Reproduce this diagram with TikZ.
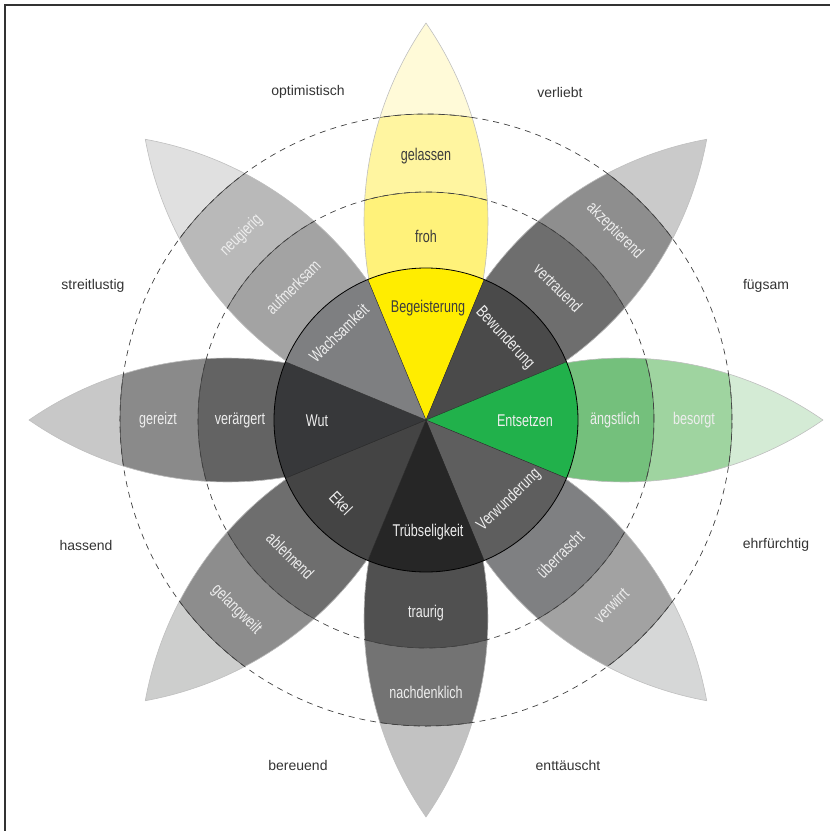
\documentclass[tikz,border=0pt]{standalone}
\usepackage{fontspec}
\setmainfont{Liberation Sans}
\newfontfamily\condfont{Liberation Sans}[FakeStretch=0.74]
\definecolor{yA}{HTML}{FFED00}
\definecolor{yB}{HTML}{FFF27A}
\definecolor{yC}{HTML}{FFF5A0}
\definecolor{yD}{HTML}{FFFAD8}
\definecolor{gA}{HTML}{21B14B}
\definecolor{gB}{HTML}{74C07C}
\definecolor{gC}{HTML}{9FD4A0}
\definecolor{gD}{HTML}{D4EBD5}
\definecolor{trA}{HTML}{4A4A4A}
\definecolor{trB}{HTML}{6E6E6E}
\definecolor{trC}{HTML}{8E8E8E}
\definecolor{trD}{HTML}{CACACA}
\definecolor{tlA}{HTML}{7E7F81}
\definecolor{tlB}{HTML}{A3A3A3}
\definecolor{tlC}{HTML}{B9B9B9}
\definecolor{tlD}{HTML}{E0E0E0}
\definecolor{lA}{HTML}{37383A}
\definecolor{lB}{HTML}{636363}
\definecolor{lC}{HTML}{8A8A8A}
\definecolor{lD}{HTML}{C8C8C8}
\definecolor{blA}{HTML}{444444}
\definecolor{blB}{HTML}{6E6E6E}
\definecolor{blC}{HTML}{8D8D8D}
\definecolor{blD}{HTML}{CDCECD}
\definecolor{bA}{HTML}{262626}
\definecolor{bB}{HTML}{505050}
\definecolor{bC}{HTML}{737373}
\definecolor{bD}{HTML}{C2C2C2}
\definecolor{brA}{HTML}{5E5E5E}
\definecolor{brB}{HTML}{7F8082}
\definecolor{brC}{HTML}{A2A2A2}
\definecolor{brD}{HTML}{D6D7D7}
\definecolor{darktext}{HTML}{3C3C3C}
\definecolor{lighttext}{HTML}{EEEEEE}
\definecolor{outertext}{HTML}{333333}
\def\lR{348.76}
\def\la{34.69}
\newcommand\drawpetal[4]{%
\begin{scope}[rotate=#1-90]
  \begin{scope}
    \clip (0,0) arc[start angle=-\la, end angle=\la, radius=\lR] arc[start angle=180-\la, end angle=180+\la, radius=\lR] -- cycle;
    \fill[#4] (0,0) circle (410);
    \fill[#3] (0,0) circle (306);
    \fill[#2] (0,0) circle (228);
    \draw[bandline] (0,0) circle (228) (0,0) circle (306);
  \end{scope}
  \draw[petaledge] (0,0) arc[start angle=-\la, end angle=\la, radius=\lR] arc[start angle=180-\la, end angle=180+\la, radius=\lR] -- cycle;
\end{scope}}
\newcommand\drawsector[2]{%
\fill[#2] (0,0) -- (#1-22.5:152) arc[start angle=#1-22.5, end angle=#1+22.5, radius=152] -- cycle;}
\begin{document}
\begin{tikzpicture}[x=1pt,y=1pt,
  bandline/.style={draw=black!75, line width=0.5pt},
  petaledge/.style={draw=black!25, line width=0.6pt},
  dashcircle/.style={draw=black!75, line width=0.7pt, dash pattern=on 6pt off 5pt},
  framel/.style={draw=black!80, line width=1.4pt},
  lab/.style={font=\condfont\fontsize{17}{20}\selectfont, text=lighttext, inner sep=0pt},
  dlab/.style={lab, text=darktext},
  outer/.style={font=\fontsize{14}{16}\selectfont, text=outertext, inner sep=0pt}]
\useasboundingbox (-426,-411) rectangle (404,420);
\draw[framel] (-421,-411) -- (-421,415) -- (404,415);
% petals
\drawpetal{90}{yB}{yC}{yD}
\drawpetal{45}{trB}{trC}{trD}
\drawpetal{0}{gB}{gC}{gD}
\drawpetal{-45}{brB}{brC}{brD}
\drawpetal{-90}{bB}{bC}{bD}
\drawpetal{-135}{blB}{blC}{blD}
\drawpetal{180}{lB}{lC}{lD}
\drawpetal{135}{tlB}{tlC}{tlD}
% dashed circles
\draw[dashcircle] (0,0) circle (228);
\draw[dashcircle] (0,0) circle (306);
% inner sectors
\drawsector{90}{yA}
\drawsector{45}{trA}
\drawsector{0}{gA}
\drawsector{-45}{brA}
\drawsector{-90}{bA}
\drawsector{-135}{blA}
\drawsector{180}{lA}
\drawsector{135}{tlA}
\foreach \a in {22.5,67.5,...,337.5} \draw[black!85, line width=0.4pt] (0,0) -- (\a:152);
\draw[black, line width=0.8pt] (0,0) circle (152);
% sector labels
\node[dlab] (begeisterung) at (2,112) {Begeisterung};
\node[lab, rotate=-47] (bewunderung) at (79,82) {Bewunderung};
\node[lab] (entsetzen) at (99,-1) {Entsetzen};
\node[lab, rotate=44] (verwunderung) at (83,-80) {Verwunderung};
\node[lab] (truebseligkeit) at (2,-112) {Trübseligkeit};
\node[lab, rotate=-46] (ekel) at (-85,-83) {Ekel};
\node[lab] (wut) at (-109,-1) {Wut};
\node[lab, rotate=44] (wachsamkeit) at (-87,87) {Wachsamkeit};
% petal labels
\node[dlab] (froh) at (90:184) {froh};
\node[dlab] (gelassen) at (90:264) {gelassen};
\node[lab, rotate=-45] (vertrauend) at (45:187) {vertrauend};
\node[lab, rotate=-45] (akzeptierend) at (45:267) {akzeptierend};
\node[lab] (aengstlich) at (0:189) {ängstlich};
\node[lab] (besorgt) at (0:268) {besorgt};
\node[lab, rotate=45] (ueberrascht) at (-45:190) {überrascht};
\node[lab, rotate=45] (verwirrt) at (-45:262) {verwirrt};
\node[lab] (traurig) at (-90:193) {traurig};
\node[lab] (nachdenklich) at (-90:272) {nachdenklich};
\node[lab, rotate=-45] (ablehnend) at (-135:192) {ablehnend};
\node[lab, rotate=-45] (gelangweilt) at (-135:268) {gelangweilt};
\node[lab] (veraergert) at (180:186) {verärgert};
\node[lab] (gereizt) at (180:268) {gereizt};
\node[lab, rotate=45] (aufmerksam) at (135:188) {aufmerksam};
\node[lab, rotate=45] (neugierig) at (135:261) {neugierig};
% outer labels
\node[outer] (optimistisch) at (-118,328) {optimistisch};
\node[outer] (verliebt) at (134,328) {verliebt};
\node[outer] (streitlustig) at (-333,134) {streitlustig};
\node[outer] (fuegsam) at (340,134) {fügsam};
\node[outer] (hassend) at (-340,-125) {hassend};
\node[outer] (ehrfuerchtig) at (350,-125) {ehrfürchtig};
\node[outer] (bereuend) at (-128,-345) {bereuend};
\node[outer] (enttaeuscht) at (142,-345) {enttäuscht};
\end{tikzpicture}
\end{document}
